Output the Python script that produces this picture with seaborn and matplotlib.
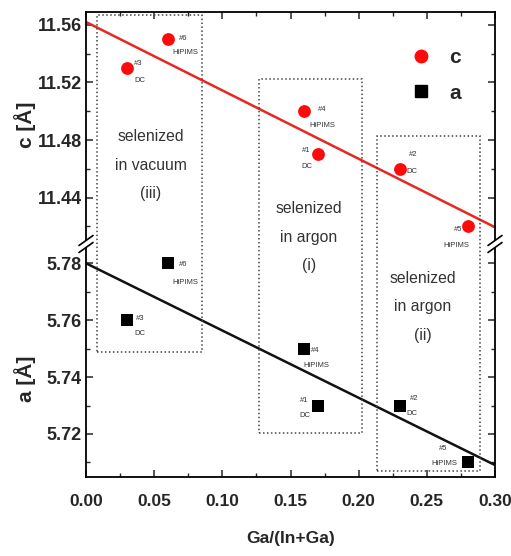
import numpy as np
import pandas as pd
import seaborn as sns
import matplotlib
matplotlib.use("Agg")
import matplotlib.pyplot as plt
from matplotlib.patches import Rectangle, Polygon
from matplotlib.lines import Line2D
from matplotlib.ticker import MultipleLocator

# ---------------- data ----------------
ga_ratio = [0.03, 0.06, 0.16, 0.17, 0.23, 0.28]
c_values = [11.53, 11.55, 11.50, 11.47, 11.46, 11.42]
a_values = [5.76, 5.78, 5.75, 5.73, 5.73, 5.71]
sample_ids = ["#3", "#6", "#4", "#1", "#2", "#5"]
methods = ["DC", "HiPIMS", "HiPIMS", "DC", "DC", "HiPIMS"]

group_texts = ["selenized\nin vacuum\n(iii)", "selenized\nin argon\n(i)", "selenized\nin argon\n(ii)"]
x_ticks = [0.00, 0.05, 0.10, 0.15, 0.20, 0.25, 0.30]
c_ticks = [11.44, 11.48, 11.52, 11.56]
a_ticks = [5.72, 5.74, 5.76, 5.78]

df = pd.DataFrame({"x": ga_ratio, "c": c_values, "a": a_values,
                   "id": sample_ids, "method": methods})

# ---------------- layout ----------------
W, H = 511, 556
sns.set_theme(style="ticks")
plt.rcParams["font.family"] = ["Liberation Sans", "DejaVu Sans"]

fig = plt.figure(figsize=(W / 100, H / 100), dpi=100)
L, R = 86 / W, 495 / W
y_top, y_mid, y_bot = 1 - 12 / H, 1 - 244 / H, 1 - 477 / H
ax_t = fig.add_axes([L, y_mid, R - L, y_top - y_mid])
ax_b = fig.add_axes([L, y_bot, R - L, y_mid - y_bot], sharex=ax_t)

RED = "#ff0a0a"
LINE_RED = "#e8281e"
for ax in (ax_t, ax_b):
    ax.set_facecolor("none")
    ax.set_xlim(0.0, 0.30)
    for s in ax.spines.values():
        s.set_linewidth(1.3)
        s.set_color("black")
ax_t.set_ylim(11.4077, 11.569)
ax_b.set_ylim(5.7049, 5.7867)

# regression lines
sns.regplot(data=df, x="x", y="c", ax=ax_t, scatter=False, ci=None, truncate=False,
            line_kws=dict(color=LINE_RED, lw=1.8))
sns.regplot(data=df, x="x", y="a", ax=ax_b, scatter=False, ci=None, truncate=False,
            line_kws=dict(color="#111111", lw=1.8))

# points
sns.scatterplot(data=df, x="x", y="c", ax=ax_t, marker="o", s=85, color=RED,
                edgecolor=RED, linewidth=0, zorder=5)
sns.scatterplot(data=df, x="x", y="a", ax=ax_b, marker="s", s=70, color="black",
                edgecolor="black", linewidth=0, zorder=5)

for ax in (ax_t, ax_b):
    ax.set_xlim(0.0, 0.30)
ax_t.set_ylim(11.4077, 11.569)
ax_b.set_ylim(5.7049, 5.7867)

# ticks
ax_b.set_xticks(x_ticks)
ax_b.set_xticklabels([f"{v:.2f}" for v in x_ticks])
ax_b.xaxis.set_minor_locator(MultipleLocator(0.025))
ax_t.set_yticks(c_ticks)
ax_t.set_yticklabels([f"{v:.2f}" for v in c_ticks])
ax_t.yaxis.set_minor_locator(MultipleLocator(0.02))
ax_b.set_yticks(a_ticks)
ax_b.set_yticklabels([f"{v:.2f}" for v in a_ticks])
ax_b.yaxis.set_minor_locator(MultipleLocator(0.01))

ax_t.spines["bottom"].set_visible(False)
ax_b.spines["top"].set_visible(False)
ax_t.tick_params(axis="x", which="both", direction="in", bottom=False, top=True,
                 labelbottom=False)
ax_b.tick_params(axis="x", which="both", direction="in", bottom=True, top=False)
for ax in (ax_t, ax_b):
    ax.tick_params(axis="y", which="both", direction="in", left=True, right=True,
                   labelright=False)
    ax.tick_params(which="major", length=5, width=1.1)
    ax.tick_params(which="minor", length=3, width=1.0)
    ax.tick_params(axis="y", pad=3, labelsize=13)
    ax.tick_params(axis="x", pad=12, labelsize=12.5)
    for lab in ax.get_xticklabels() + ax.get_yticklabels():
        lab.set_fontweight("bold")
    ax.set_xlabel("")
    ax.set_ylabel("")

ax_b.set_xlabel("Ga/(In+Ga)", fontsize=12.5, fontweight="bold", labelpad=16)
ax_t.set_ylabel("c [Å]", fontsize=15, fontweight="bold")
ax_b.set_ylabel("a [Å]", fontsize=15, fontweight="bold")
ax_t.yaxis.set_label_coords(-0.122, 0.513)
ax_b.yaxis.set_label_coords(-0.122, 0.42)

# sample annotations: offsets in image pixels (dx, dy down, ha)
px = 0.72
c_layout = {
    "#3": ((7, -5, "left"), (7, 12, "left")),
    "#6": ((11, -1, "left"), (5, 13, "left")),
    "#4": ((14, -2, "left"), (5, 14, "left")),
    "#1": ((-7, -4, "right"), (-5, 12, "right")),
    "#2": ((9, -14, "left"), (7, 3, "left")),
    "#5": ((-5, 3, "right"), (-11, 19, "center")),
}
a_layout = {
    "#3": ((9, -2, "left"), (7, 13, "left")),
    "#6": ((11, 1, "left"), (5, 19, "left")),
    "#4": ((7, 2, "left"), (-1, 17, "left")),
    "#1": ((-9, -5, "right"), (-7, 10, "right")),
    "#2": ((10, -7, "left"), (7, 8, "left")),
    "#5": ((-25, -14, "center"), (-10, 1, "right")),
}
for ax, col, layout in ((ax_t, "c", c_layout), (ax_b, "a", a_layout)):
    for _, row in df.iterrows():
        (dx1, dy1, ha1), (dx2, dy2, ha2) = layout[row["id"]]
        ax.annotate(row["id"], (row["x"], row[col]), xytext=(dx1 * px, -dy1 * px),
                    textcoords="offset points", ha=ha1, va="center",
                    fontsize=5.5, color="#333333", zorder=6, annotation_clip=False)
        ax.annotate(row["method"], (row["x"], row[col]), xytext=(dx2 * px, -dy2 * px),
                    textcoords="offset points", ha=ha2, va="center",
                    fontsize=5.5, color="#333333", zorder=6, annotation_clip=False)

# dotted group boxes spanning both panels: (x0, x1, top c, bottom a)
boxes = [(0.008, 0.085, 11.567, 5.7488),
         (0.127, 0.2025, 11.5224, 5.7204),
         (0.2135, 0.289, 11.483, 5.707)]
inv = fig.transFigure.inverted()
for x0, x1, ctop, abot in boxes:
    fx0, fy1 = inv.transform(ax_t.transData.transform((x0, ctop)))
    fx1, fy0 = inv.transform(ax_b.transData.transform((x1, abot)))
    fig.patches.append(Rectangle((fx0, fy0), fx1 - fx0, fy1 - fy0, transform=fig.transFigure,
                                 fill=False, ls=(0, (1, 1.6)), lw=1.1, ec="#444444",
                                 zorder=1))

# group texts
text_pos = [(ax_t, 0.0477, 11.4626), (ax_t, 0.1636, 11.4125), (ax_b, 0.247, 5.7646)]
for (ax, tx, ty), t in zip(text_pos, group_texts):
    ax.text(tx, ty, t, ha="center", va="center", fontsize=11.3, color="#333333",
            linespacing=2.1, clip_on=False, zorder=6)

# legend
h_c = Line2D([], [], ls="none", marker="o", ms=9, color=RED)
h_a = Line2D([], [], ls="none", marker="s", ms=8, color="black")
leg = ax_t.legend([h_c, h_a], ["c", "a"], loc="upper left",
                  bbox_to_anchor=(411 / W, 1 - 48 / H), bbox_transform=fig.transFigure,
                  frameon=False, fontsize=15, handlelength=1.0, handletextpad=0.85,
                  labelspacing=0.8, borderpad=0, borderaxespad=0)
for t in leg.get_texts():
    t.set_fontweight("bold")

# axis break marks
for fx in (L, R):
    fy = y_mid
    dx, dy = 7 / W, 5 / H
    gap = 3.5 / H
    fig.patches.append(Polygon([(fx - dx, fy - dy - gap), (fx + dx, fy + dy - gap),
                                (fx + dx, fy + dy + gap), (fx - dx, fy - dy + gap)],
                               closed=True, transform=fig.transFigure, fc="white",
                               ec="none", zorder=10))
    for off in (-gap, gap):
        fig.lines.append(Line2D([fx - dx, fx + dx], [fy - dy + off, fy + dy + off],
                                transform=fig.transFigure, color="black", lw=1.2,
                                zorder=11))

fig.savefig("out.png", dpi=100)
